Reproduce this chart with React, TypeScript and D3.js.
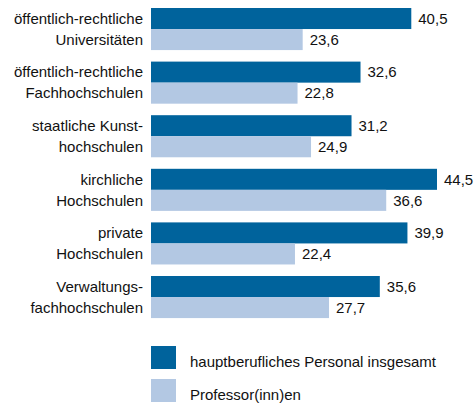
import React from 'react';
import * as d3 from 'd3';

// categories (two-line labels) and values
const categories = [
  ['öffentlich-rechtliche', 'Universitäten'],
  ['öffentlich-rechtliche', 'Fachhochschulen'],
  ['staatliche Kunst-', 'hochschulen'],
  ['kirchliche', 'Hochschulen'],
  ['private', 'Hochschulen'],
  ['Verwaltungs-', 'fachhochschulen'],
];
const personalValues = [40.5, 32.6, 31.2, 44.5, 39.9, 35.6];
const profValues = [23.6, 22.8, 24.9, 36.6, 22.4, 27.7];
const seriesNames = ['hauptberufliches Personal insgesamt', 'Professor(inn)en'];
const colors = ['#00639c', '#b3c8e3'];

const width = 475;
const height = 406;

const App = () => {
  const x = d3.scaleLinear().domain([0, 44.5]).range([151, 437]);
  // step ~53.6, first band at y=8
  const step = 53.6;
  const padOuter = 0.2;
  const padInner = 0.215;
  const y0Range = 8 - padOuter * step;
  const y = d3
    .scaleBand<number>()
    .domain(d3.range(categories.length))
    .range([y0Range, y0Range + step * (categories.length - padInner + 2 * padOuter)])
    .paddingInner(padInner)
    .paddingOuter(padOuter);
  const sub = d3.scaleBand<number>().domain([0, 1]).range([0, y.bandwidth()]);
  const fmt = (v: number) => d3.format('.1f')(v).replace('.', ',');
  const font = '"Liberation Sans", Arial, sans-serif';

  return (
    <svg
      width={width}
      height={height}
      style={{ position: 'absolute', left: 0, top: 0 }}
      fontFamily={font}
      fontSize={15}
    >
      {categories.map((lines, i) => {
        const y0 = y(i)!;
        const vals = [personalValues[i], profValues[i]];
        return (
          <g key={i}>
            {vals.map((v, j) => (
              <g key={j}>
                <rect
                  x={x(0)}
                  y={y0 + sub(j)!}
                  width={x(v) - x(0)}
                  height={sub.bandwidth()}
                  fill={colors[j]}
                />
                <text
                  x={x(v) + 7}
                  y={y0 + sub(j)! + sub.bandwidth() / 2}
                  dy="0.35em"
                  fill="#111"
                >
                  {fmt(v)}
                </text>
              </g>
            ))}
            {lines.map((l, k) => (
              <text
                key={k}
                x={143}
                y={y0 + sub(k)! + sub.bandwidth() / 2}
                dy="0.35em"
                textAnchor="end"
                fill="#111"
              >
                {l}
              </text>
            ))}
          </g>
        );
      })}
      {seriesNames.map((name, j) => (
        <g key={name} transform={`translate(151, ${346 + j * 33})`}>
          <rect width={25} height={23} fill={colors[j]} />
          <text x={39} y={21} fill="#111">
            {name}
          </text>
        </g>
      ))}
    </svg>
  );
};

export default App;
